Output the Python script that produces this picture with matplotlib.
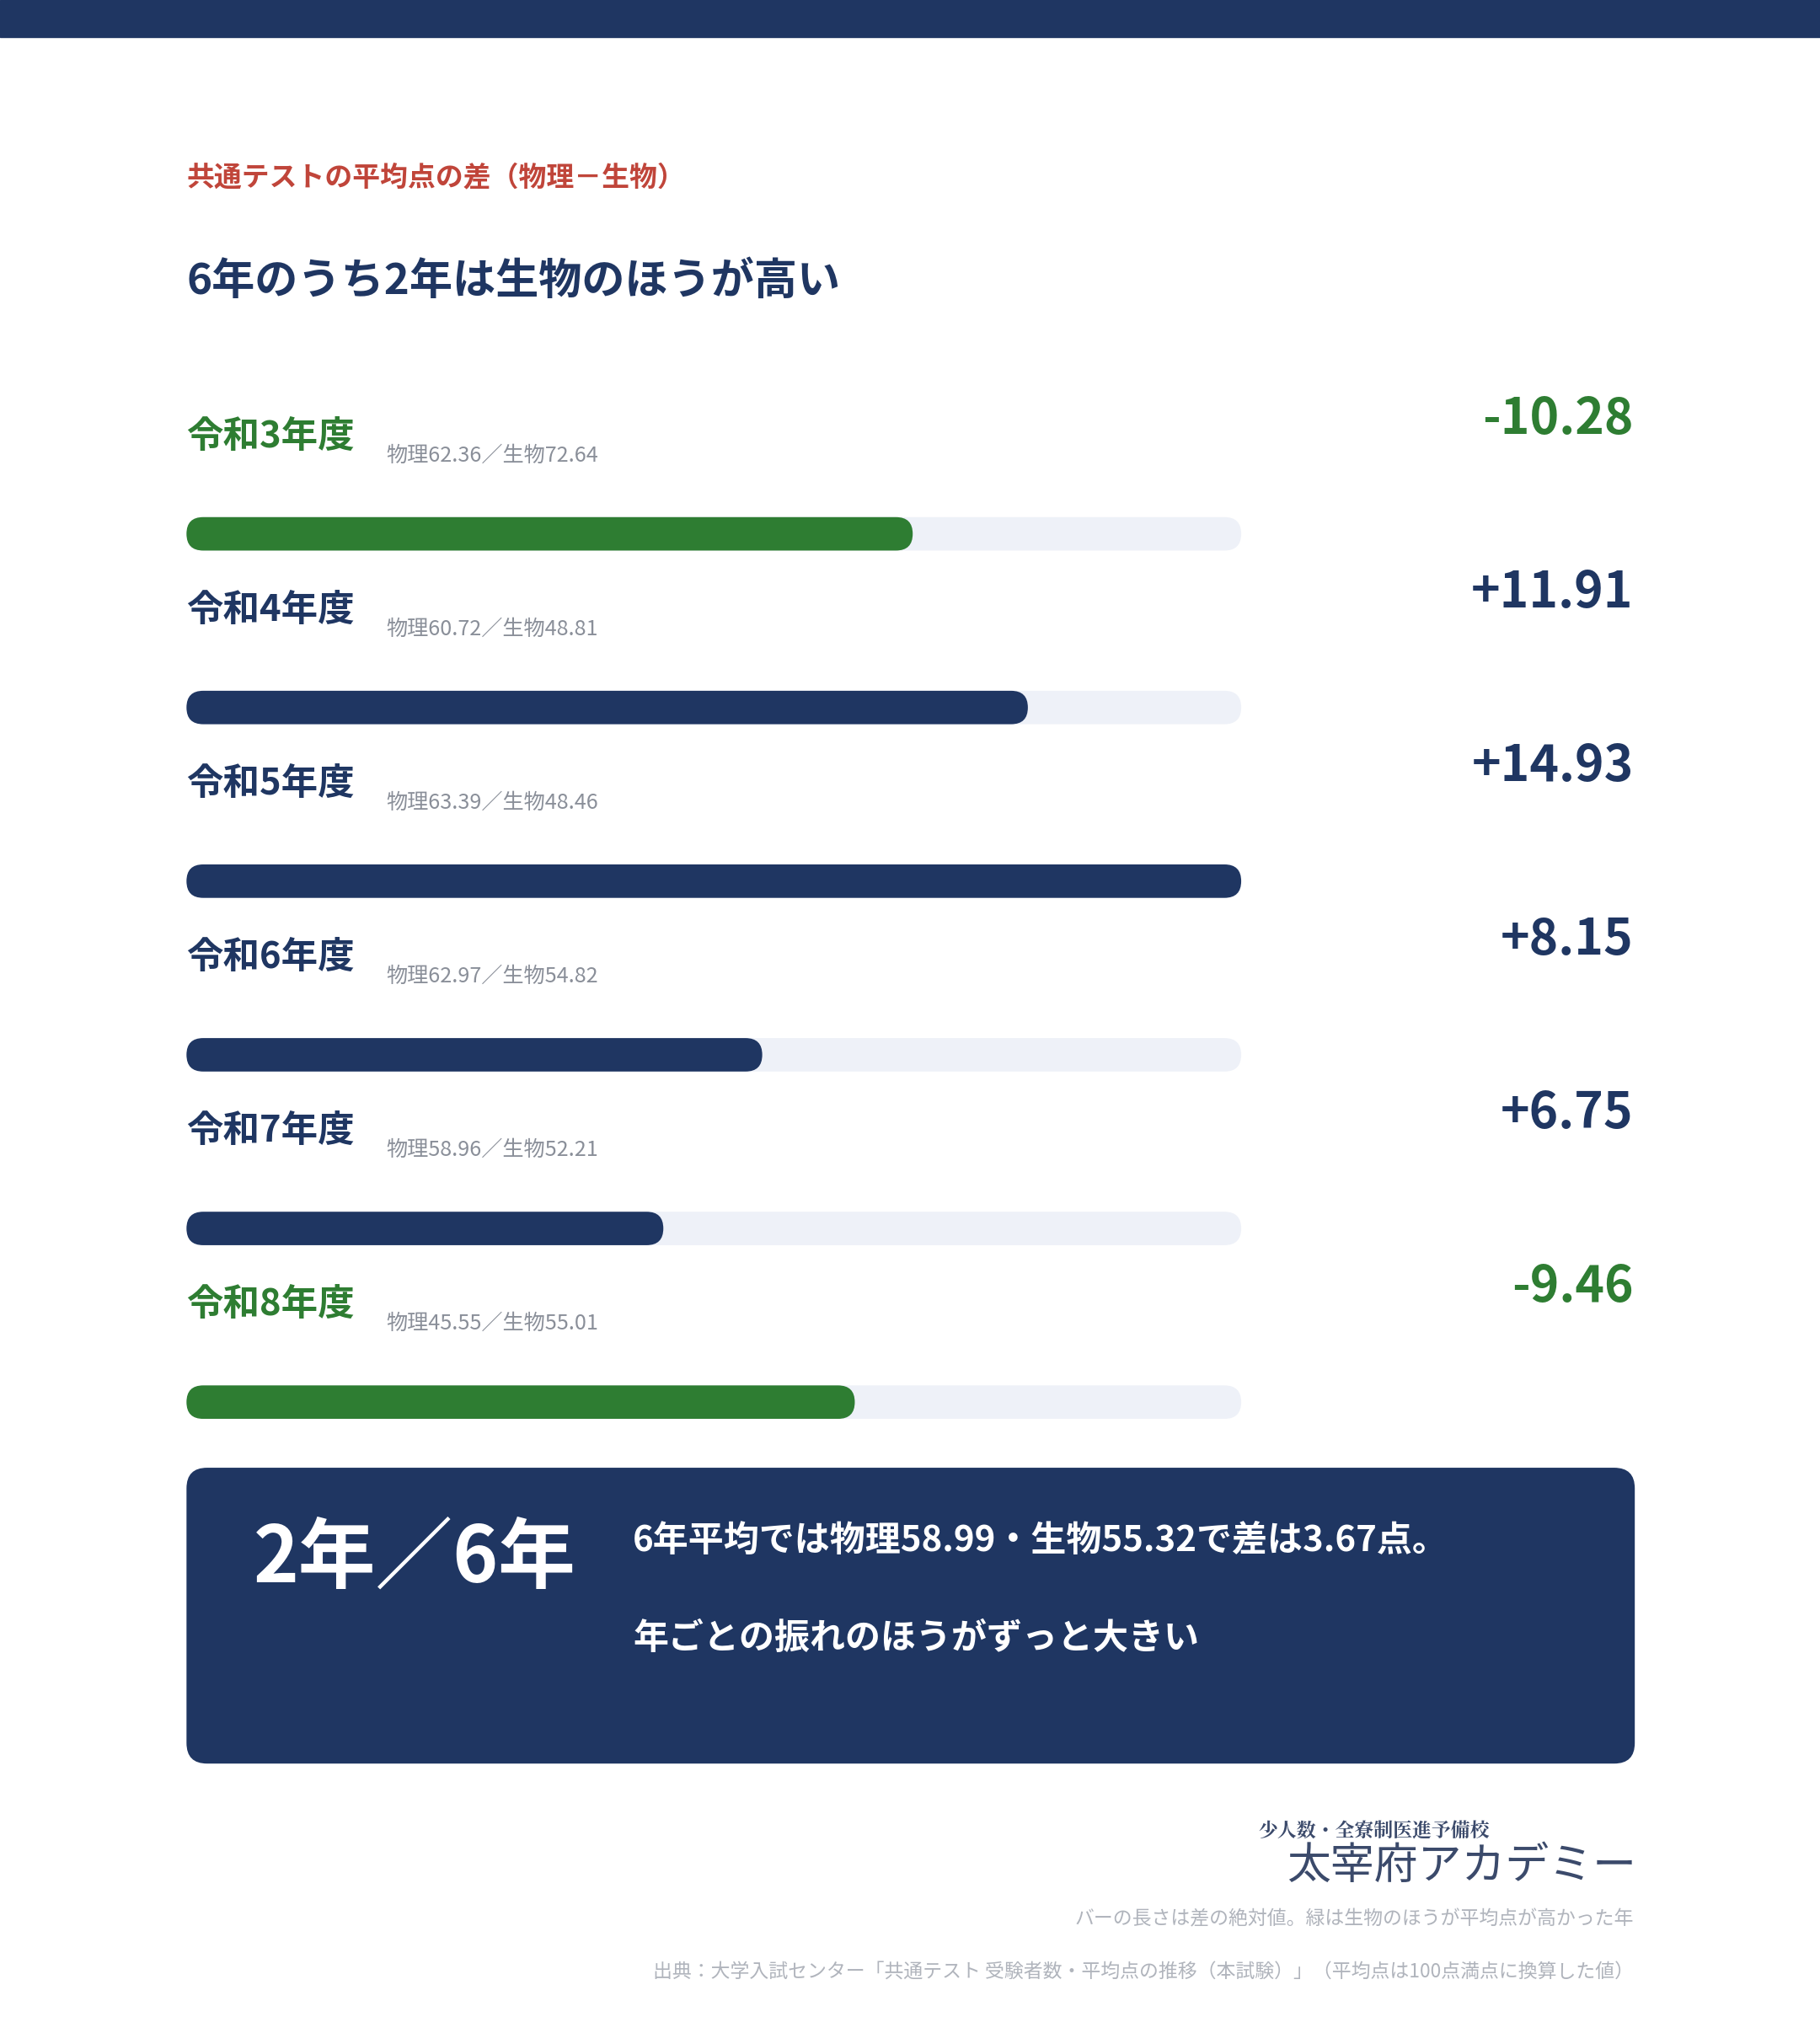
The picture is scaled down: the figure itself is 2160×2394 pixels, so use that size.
import matplotlib
matplotlib.use("Agg")
import matplotlib.pyplot as plt
from matplotlib.patches import FancyBboxPatch, Rectangle

plt.rcParams['font.family'] = ['Noto Sans CJK JP', 'DejaVu Sans']

years = ["令和3年度", "令和4年度", "令和5年度", "令和6年度", "令和7年度", "令和8年度"]
physics = [62.36, 60.72, 63.39, 62.97, 58.96, 45.55]
biology = [72.64, 48.81, 48.46, 54.82, 52.21, 55.01]
diffs = [-10.28, 11.91, 14.93, 8.15, 6.75, -9.46]

NAVY = "#1f3662"; GREEN = "#2e7d32"; TRACK = "#eef1f8"; RED = "#c0453a"; GRAY = "#8a8f99"
W, H = 1415, 1568
S = 1.099  # display px -> pt

fig = plt.figure(figsize=(21.6, 23.94), dpi=100)
ax = fig.add_axes([0, 0, 1, 1])
ax.set_xlim(0, W); ax.set_ylim(H, 0); ax.axis("off")

ax.add_patch(Rectangle((0, 0), W, 29, color=NAVY))
ax.text(145, 138, "共通テストの平均点の差（物理－生物）", color=RED, fontsize=21.5*S, fontweight="bold", va="center")
ax.text(145, 219, "6年のうち2年は生物のほうが高い", color=NAVY, fontsize=33.5*S, fontweight="bold", va="center")

x0, x1 = 145, 965
bh = 26
maxabs = max(abs(d) for d in diffs)
for i, (y, p, b, d) in enumerate(zip(years, physics, biology, diffs)):
    yc = 339 + 135*i
    col = GREEN if d < 0 else NAVY
    ax.text(145, yc, y, color=col, fontsize=28.5*S, fontweight="bold", va="center")
    ax.text(300, yc+15, f"物理{p:.2f}／生物{b:.2f}", color=GRAY, fontsize=16.5*S, va="center")
    ax.text(1270, yc-13, f"{d:+.2f}", color=col, fontsize=38.5*S, fontweight="bold", va="center", ha="right")
    by = 415 + 135*i
    ax.add_patch(FancyBboxPatch((x0, by-bh/2), x1-x0, bh,
                 boxstyle=f"round,pad=0,rounding_size={bh/2}", fc=TRACK, ec="none"))
    L = abs(d)/maxabs*(x1-x0)
    ax.add_patch(FancyBboxPatch((x0, by-bh/2), L, bh,
                 boxstyle=f"round,pad=0,rounding_size={bh/2}", fc=col, ec="none"))

ax.add_patch(FancyBboxPatch((145, 1141), 1126, 230, boxstyle="round,pad=0,rounding_size=16", fc=NAVY, ec="none"))
ax.text(197, 1212, "2年／6年", color="white", fontsize=60*S, fontweight="bold", va="center")
ax.text(492, 1198, "6年平均では物理58.99・生物55.32で差は3.67点。", color="white", fontsize=27.5*S, fontweight="bold", va="center")
ax.text(492, 1274, "年ごとの振れのほうがずっと大きい", color="white", fontsize=27.5*S, fontweight="bold", va="center")

ax.text(978, 1424, "少人数・全寮制医進予備校", color="#3b4a6b", fontsize=15*S, fontweight="bold", va="center",
        family=['Noto Serif CJK JP', 'Noto Sans CJK JP'])
ax.text(1272, 1451, "太宰府アカデミー", color="#3b4a6b", fontsize=34*S, va="center", ha="right",
        family=['Noto Sans CJK JP'])
ax.text(1270, 1492, "バーの長さは差の絶対値。緑は生物のほうが平均点が高かった年", color="#b0b4bc", fontsize=15*S, ha="right", va="center")
ax.text(1270, 1533, "出典：大学入試センター「共通テスト 受験者数・平均点の推移（本試験）」（平均点は100点満点に換算した値）",
        color="#b0b4bc", fontsize=15*S, ha="right", va="center")

fig.savefig("out.png", dpi=100, facecolor="white")
